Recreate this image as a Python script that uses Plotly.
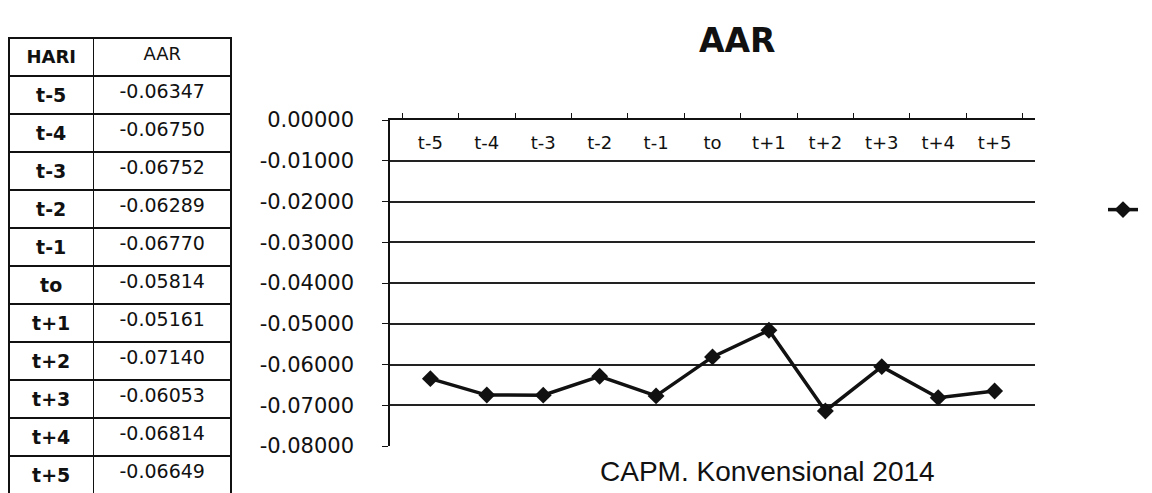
import plotly.graph_objects as go

# Event-window days and average abnormal return (AAR) per day
days = ["t-5", "t-4", "t-3", "t-2", "t-1", "to", "t+1", "t+2", "t+3", "t+4", "t+5"]
aar = [-0.06347, -0.06750, -0.06752, -0.06289, -0.06770, -0.05814,
       -0.05161, -0.07140, -0.06053, -0.06814, -0.06649]

# Value axis ticks
y_tick_values = [0.0, -0.01, -0.02, -0.03, -0.04, -0.05, -0.06, -0.07, -0.08]
y_tick_labels = ["0.00000", "-0.01000", "-0.02000", "-0.03000", "-0.04000",
                 "-0.05000", "-0.06000", "-0.07000", "-0.08000"]

table_header = ["HARI", "AAR"]
chart_title = "AAR"
chart_caption = "CAPM. Konvensional 2014"

W, H = 1152, 493


def px_x(x):
    return x / W


def px_y(y):
    return 1 - y / H


fig = go.Figure()

# Data table on the left
fig.add_trace(go.Table(
    domain=dict(x=[px_x(9), px_x(231)], y=[0, px_y(38)]),
    columnwidth=[84, 137],
    header=dict(
        values=["<b>%s</b>" % table_header[0], table_header[1]],
        height=38,
        align="center",
        line=dict(color="#111111", width=1.5),
        fill=dict(color="white"),
        font=dict(family="DejaVu Sans", size=18, color="#111111"),
    ),
    cells=dict(
        values=[["<b>%s</b>" % d for d in days], ["%.5f" % v for v in aar]],
        height=37.5,
        align="center",
        line=dict(color="#111111", width=1.5),
        fill=dict(color="white"),
        font=dict(family="DejaVu Sans", size=19, color="#111111"),
    ),
))

# AAR line chart
fig.add_trace(go.Scatter(
    x=days,
    y=aar,
    mode="lines+markers",
    name=" ",
    line=dict(color="#111111", width=3.5),
    marker=dict(symbol="diamond", size=13, color="#111111"),
    showlegend=True,
))

fig.update_layout(
    width=W,
    height=H,
    margin=dict(l=0, r=0, t=0, b=0, autoexpand=False),
    paper_bgcolor="white",
    plot_bgcolor="white",
    showlegend=True,
    legend=dict(
        x=px_x(1103), y=px_y(210), xanchor="left", yanchor="middle",
        bgcolor="rgba(0,0,0,0)", font=dict(size=14),
        itemwidth=30,
    ),
    xaxis=dict(
        domain=[px_x(390), px_x(1035)],
        side="top",
        type="category",
        showline=True, linecolor="#111111", linewidth=1.5,
        ticks="outside", ticklen=5, tickcolor="#111111", tickson="boundaries",
        ticklabelstandoff=-38,
        tickfont=dict(family="DejaVu Sans", size=18, color="#111111"),
        showgrid=False, zeroline=False,
    ),
    yaxis=dict(
        domain=[px_y(446), px_y(120)],
        range=[-0.08, 0.0],
        tickvals=y_tick_values,
        ticktext=y_tick_labels,
        showline=True, linecolor="#111111", linewidth=1.5,
        ticks="outside", ticklen=6, tickcolor="#111111",
        ticklabelstandoff=24,
        tickfont=dict(family="DejaVu Sans", size=21, color="#111111"),
        showgrid=True, gridcolor="#222222", gridwidth=1.5,
        zeroline=False,
    ),
    annotations=[
        dict(text="<b>%s</b>" % chart_title, x=px_x(737), y=px_y(41),
             xref="paper", yref="paper", xanchor="center", yanchor="middle",
             showarrow=False,
             font=dict(family="DejaVu Sans", size=33, color="#111111")),
        dict(text=chart_caption, x=px_x(598), y=px_y(471),
             xref="paper", yref="paper", xanchor="left", yanchor="middle",
             showarrow=False,
             font=dict(family="Liberation Sans", size=28, color="#111111")),
    ],
)

fig.write_html("out.html")
